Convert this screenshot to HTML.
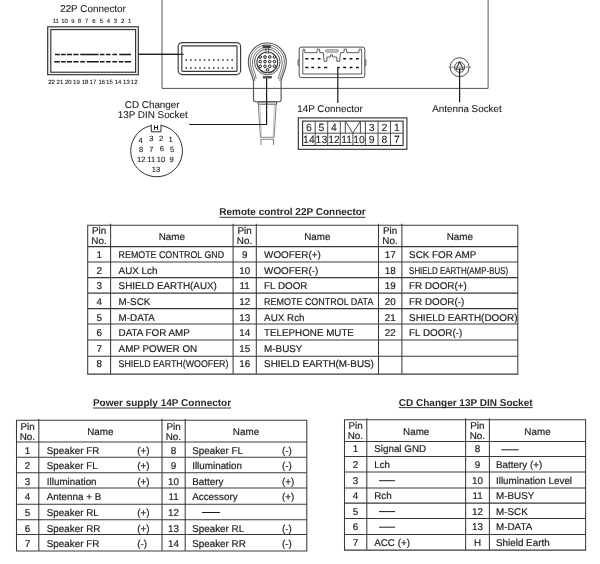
<!DOCTYPE html>
<html lang="en"><head><meta charset="utf-8"><title>Connector pinout</title>
<style>
html,body{margin:0;padding:0;background:#fff}
svg{display:block;will-change:transform}
text{font-family:"Liberation Sans",Arial,sans-serif;font-size:9.85px;fill:#1c1c1c;text-rendering:geometricPrecision;stroke:#1c1c1c;stroke-width:0.18px}
</style></head><body>
<svg width="600" height="564" viewBox="0 0 600 564">
<rect width="600" height="564" fill="#fff"/>
<path d="M162 -2V88.4H488.1V-2" fill="none" stroke="#4a4a4a" stroke-width="0.95"/>
<text x="93" y="12.3" style="font-size:9.9px;stroke-width:0.08px" text-anchor="middle">22P Connector</text>
<rect x="47.7" y="26.8" width="90.6" height="47.9" fill="#f4f4f4" stroke="#2a2a2a" stroke-width="1.1"/>
<rect x="50.8" y="29.6" width="84.8" height="42.6" fill="#fff" stroke="#2a2a2a" stroke-width="1.1"/>
<text x="55.8" y="23.4" style="font-size:6px;stroke-width:0.1px" text-anchor="middle">11</text>
<text x="64.6" y="23.4" style="font-size:6px;stroke-width:0.1px" text-anchor="middle">10</text>
<text x="73.0" y="23.4" style="font-size:6px;stroke-width:0.1px" text-anchor="middle">9</text>
<text x="79.4" y="23.4" style="font-size:6px;stroke-width:0.1px" text-anchor="middle">8</text>
<text x="86.75" y="23.4" style="font-size:6px;stroke-width:0.1px" text-anchor="middle">7</text>
<text x="94.0" y="23.4" style="font-size:6px;stroke-width:0.1px" text-anchor="middle">6</text>
<text x="101.3" y="23.4" style="font-size:6px;stroke-width:0.1px" text-anchor="middle">5</text>
<text x="108.5" y="23.4" style="font-size:6px;stroke-width:0.1px" text-anchor="middle">4</text>
<text x="115.3" y="23.4" style="font-size:6px;stroke-width:0.1px" text-anchor="middle">3</text>
<text x="122.6" y="23.4" style="font-size:6px;stroke-width:0.1px" text-anchor="middle">2</text>
<text x="129.7" y="23.4" style="font-size:6px;stroke-width:0.1px" text-anchor="middle">1</text>
<text x="51.5" y="84.1" style="font-size:6px;stroke-width:0.1px" text-anchor="middle">22</text>
<text x="59.9" y="84.1" style="font-size:6px;stroke-width:0.1px" text-anchor="middle">21</text>
<text x="68.3" y="84.1" style="font-size:6px;stroke-width:0.1px" text-anchor="middle">20</text>
<text x="76.4" y="84.1" style="font-size:6px;stroke-width:0.1px" text-anchor="middle">19</text>
<text x="85.1" y="84.1" style="font-size:6px;stroke-width:0.1px" text-anchor="middle">18</text>
<text x="92.9" y="84.1" style="font-size:6px;stroke-width:0.1px" text-anchor="middle">17</text>
<text x="101.8" y="84.1" style="font-size:6px;stroke-width:0.1px" text-anchor="middle">16</text>
<text x="109.4" y="84.1" style="font-size:6px;stroke-width:0.1px" text-anchor="middle">15</text>
<text x="118.1" y="84.1" style="font-size:6px;stroke-width:0.1px" text-anchor="middle">14</text>
<text x="126.4" y="84.1" style="font-size:6px;stroke-width:0.1px" text-anchor="middle">13</text>
<text x="134.2" y="84.1" style="font-size:6px;stroke-width:0.1px" text-anchor="middle">12</text>
<path d="M55.0 54.5H59.8M61.1 54.5H65.7M67.0 54.5H72.1M73.4 54.5H78.5M80.3 54.5H98.7M100.0 54.5H104.5M106.0 54.5H110.6M112.4 54.5H117.0M119.2 54.5H131.1" stroke="#161616" stroke-width="1.5" fill="none"/>
<path d="M54.3 61.8H59.8M61.1 61.8H65.7M67.0 61.8H72.1M73.4 61.8H78.5M80.3 61.8H84.9M86.8 61.8H98.7M100.0 61.8H104.5M106.0 61.8H110.6M112.4 61.8H117.0M118.8 61.8H123.4M124.7 61.8H131.1" stroke="#161616" stroke-width="1.5" fill="none"/>
<line x1="138.8" y1="54.4" x2="183.5" y2="54.4" stroke="#222" stroke-width="1.1"/>
<rect x="178.2" y="42.6" width="62.4" height="32" rx="4" fill="#fff" stroke="#3a3a3a" stroke-width="1.15"/>
<rect x="181.8" y="45.8" width="55.2" height="25.5" rx="0.8" fill="none" stroke="#3a3a3a" stroke-width="1.15"/>
<path d="M185.40 60H187.00M185.40 68H187.00M190.00 60H191.60M190.00 68H191.60M194.60 60H196.20M194.60 68H196.20M199.20 60H200.80M199.20 68H200.80M203.80 60H205.40M203.80 68H205.40M208.40 60H210.00M208.40 68H210.00M213.00 60H214.60M213.00 68H214.60M217.60 60H219.20M217.60 68H219.20M222.20 60H223.80M222.20 68H223.80M226.80 60H228.40M226.80 68H228.40M231.40 60H233.00M231.40 68H233.00" stroke="#333" stroke-width="1.4" fill="none"/>
<line x1="138.8" y1="54.4" x2="183.5" y2="54.4" stroke="#222" stroke-width="1.1"/>
<path d="M253.50 82.00C253.20 76.00 248.30 70.00 248.30 62.00A19.0 19.0 0 0 1 286.30 62.00C286.30 70.00 281.40 76.00 281.10 82.00V99.5Q281.1 101.7 279.1 101.7H255.5Q253.5 101.7 253.5 99.5V82" fill="none" stroke="#505050" stroke-width="1.1"/>
<path d="M254.90 81.00C254.60 75.00 250.20 70.00 250.20 62.00A17.1 17.1 0 0 1 284.40 62.00C284.40 70.00 280.00 75.00 279.70 81.00" fill="none" stroke="#6a6a6a" stroke-width="0.9"/>
<path d="M256.10 79.00C255.80 73.00 252.40 70.00 252.40 62.00A14.9 14.9 0 0 1 282.20 62.00C282.20 70.00 278.80 73.00 278.50 79.00" fill="none" stroke="#6a6a6a" stroke-width="0.9"/>
<circle cx="267.3" cy="62.0" r="12.8" fill="none" stroke="#505050" stroke-width="1"/>
<circle cx="267.3" cy="62.4" r="10.4" fill="#fff" stroke="#3a3a3a" stroke-width="1.1"/>
<circle cx="260.2" cy="57.0" r="1.35" fill="#ddd" stroke="#2a2a2a" stroke-width="1"/>
<circle cx="260.2" cy="61.6" r="1.35" fill="#ddd" stroke="#2a2a2a" stroke-width="1"/>
<circle cx="260.2" cy="66.3" r="1.35" fill="#ddd" stroke="#2a2a2a" stroke-width="1"/>
<circle cx="265.0" cy="57.0" r="1.35" fill="#ddd" stroke="#2a2a2a" stroke-width="1"/>
<circle cx="265.0" cy="61.6" r="1.35" fill="#ddd" stroke="#2a2a2a" stroke-width="1"/>
<circle cx="265.0" cy="66.3" r="1.35" fill="#ddd" stroke="#2a2a2a" stroke-width="1"/>
<circle cx="269.7" cy="57.0" r="1.35" fill="#ddd" stroke="#2a2a2a" stroke-width="1"/>
<circle cx="269.7" cy="61.6" r="1.35" fill="#ddd" stroke="#2a2a2a" stroke-width="1"/>
<circle cx="269.7" cy="66.3" r="1.35" fill="#ddd" stroke="#2a2a2a" stroke-width="1"/>
<circle cx="274.5" cy="57.0" r="1.35" fill="#ddd" stroke="#2a2a2a" stroke-width="1"/>
<circle cx="274.5" cy="61.6" r="1.35" fill="#ddd" stroke="#2a2a2a" stroke-width="1"/>
<circle cx="274.5" cy="66.3" r="1.35" fill="#ddd" stroke="#2a2a2a" stroke-width="1"/>
<circle cx="267.5" cy="69.9" r="1.35" fill="#ddd" stroke="#2a2a2a" stroke-width="1"/>
<rect x="263" y="45.7" width="7.6" height="2.2" fill="#444" stroke="#333" stroke-width="0.5"/>
<path d="M265.9 48V54M268.6 48V54" stroke="#444" stroke-width="0.8"/>
<rect x="263.2" y="76.3" width="8.4" height="1.8" fill="#666" stroke="#333" stroke-width="0.6"/>
<path d="M258 101.9H276.6M258 104.2H276.6M258 101.9V104.2M276.6 101.9V104.2" fill="none" stroke="#444" stroke-width="0.9"/>
<path d="M258.3 104.2L260.4 137.3H274.1L276.2 104.2M260.4 139.3H274.1M261 139.3V145M273.5 139.3V145" fill="none" stroke="#777" stroke-width="0.9"/>
<path d="M259.9 104.2L261.4 137.3M274.6 104.2L273.1 137.3" fill="none" stroke="#aaa" stroke-width="0.7"/>
<path d="M266.6 78.4V124.5H189.2" fill="none" stroke="#1a1a1a" stroke-width="1.2"/>
<rect x="299.2" y="47.1" width="65.6" height="30.5" rx="2" fill="#fff" stroke="#4a4a4a" stroke-width="1"/>
<path d="M302.8 74.0L302.8 52.7L303.1 49.2L304.6 49.2L304.9 52.7L317.0 52.7L317.2 49.2L319.5 49.2L319.8 52.7L323.3 52.7L324.1 61.3L326.9 61.3L326.9 57.0L330.4 57.0L330.4 54.9L332.6 54.9L332.6 57.0L336.8 57.0L336.8 61.3L339.7 61.3L340.4 52.7L343.9 52.7L344.2 49.2L346.5 49.2L346.8 52.7L358.8 52.7L359.1 49.2L361.4 49.2L361.7 52.7L361.7 74.0Z" fill="none" stroke="#4a4a4a" stroke-width="0.9"/>
<rect x="325.5" y="49.9" width="12.8" height="2.1" rx="1" fill="none" stroke="#4a4a4a" stroke-width="0.8"/>
<path d="M299.2 59.8H298.1V65.5H299.2M364.8 59.8H365.9V65.5H364.8" fill="none" stroke="#4a4a4a" stroke-width="0.9"/>
<path d="M305.3 58.8H308.4M311.3 58.8H314.1M317.7 58.8H320.5M343.2 58.8H346.1M349.6 58.8H352.4M356.0 58.8H358.8M305.3 67.4H308.4M311.3 67.4H314.1M317.7 67.4H320.5M324.1 67.4H327.2M337.5 67.4H339.7M343.2 67.4H346.1M349.6 67.4H352.4M356.0 67.4H358.8" stroke="#111" stroke-width="1.5" fill="none"/>
<path d="M337.8 67.3V103" stroke="#1a1a1a" stroke-width="1.2" fill="none"/>
<text x="297.3" y="111.6" style="stroke-width:0.08px">14P Connector</text>
<rect x="298.3" y="117.9" width="108.6" height="31.4" fill="#fff" stroke="#2a2a2a" stroke-width="1.1"/>
<rect x="302.6" y="121.1" width="100.5" height="24.4" fill="#fff" stroke="#2a2a2a" stroke-width="1.1"/>
<path d="M302.6 133.2H403.1M315.2 121.1V145.5M327.7 121.1V145.5M340.3 121.1V145.5M365.4 121.1V145.5M378.0 121.1V145.5M390.5 121.1V145.5M352.9 133.2V145.5" stroke="#4c4c4c" stroke-width="1" fill="none"/>
<path d="M345.3 121.1V133.2M360.4 121.1V133.2M345.3 121.1L352.8 133.2L360.4 121.1" stroke="#4c4c4c" stroke-width="1" fill="none"/>
<text x="308.9" y="131.2" style="font-size:10.4px;stroke-width:0.08px" text-anchor="middle">6</text>
<text x="321.4" y="131.2" style="font-size:10.4px;stroke-width:0.08px" text-anchor="middle">5</text>
<text x="334.0" y="131.2" style="font-size:10.4px;stroke-width:0.08px" text-anchor="middle">4</text>
<text x="371.7" y="131.2" style="font-size:10.4px;stroke-width:0.08px" text-anchor="middle">3</text>
<text x="384.3" y="131.2" style="font-size:10.4px;stroke-width:0.08px" text-anchor="middle">2</text>
<text x="396.8" y="131.2" style="font-size:10.4px;stroke-width:0.08px" text-anchor="middle">1</text>
<text x="308.9" y="143.4" style="font-size:10.4px;stroke-width:0.08px" text-anchor="middle">14</text>
<text x="321.4" y="143.4" style="font-size:10.4px;stroke-width:0.08px" text-anchor="middle">13</text>
<text x="334.0" y="143.4" style="font-size:10.4px;stroke-width:0.08px" text-anchor="middle">12</text>
<text x="346.6" y="143.4" style="font-size:10.4px;stroke-width:0.08px" text-anchor="middle">11</text>
<text x="359.1" y="143.4" style="font-size:10.4px;stroke-width:0.08px" text-anchor="middle">10</text>
<text x="371.7" y="143.4" style="font-size:10.4px;stroke-width:0.08px" text-anchor="middle">9</text>
<text x="384.3" y="143.4" style="font-size:10.4px;stroke-width:0.08px" text-anchor="middle">8</text>
<text x="396.8" y="143.4" style="font-size:10.4px;stroke-width:0.08px" text-anchor="middle">7</text>
<circle cx="459.6" cy="67.2" r="9.5" fill="#fff" stroke="#4a4a4a" stroke-width="1"/>
<circle cx="459.6" cy="67.2" r="5.1" fill="#fff" stroke="#4a4a4a" stroke-width="1"/>
<path d="M459.6 61.7L463.3 69.2H455.9Z" fill="none" stroke="#333" stroke-width="1.1" stroke-linejoin="round"/>
<path d="M448.5 67.2H471" stroke="#777" stroke-width="0.9"/>
<path d="M459.6 68.5V102.3" stroke="#1a1a1a" stroke-width="1.2"/>
<text x="432.2" y="111.7" style="stroke-width:0.08px">Antenna Socket</text>
<text x="152.2" y="107.7" style="font-size:9.9px;stroke-width:0.08px" text-anchor="middle">CD Changer</text>
<text x="152.7" y="118.1" style="font-size:9.9px;stroke-width:0.08px" text-anchor="middle">13P DIN Socket</text>
<path d="M161.0 125.43A25.85 25.85 0 1 1 151.3 125.60V131.8H161.0V125.43" fill="none" stroke="#2a2a2a" stroke-width="1"/>
<path d="M151.3 124.6V125.60M161.0 124.6V125.43" stroke="#2a2a2a" stroke-width="1"/>
<text x="156.1" y="129.6" style="font-size:7px;stroke:none" text-anchor="middle" font-weight="bold">H</text>
<text x="140.7" y="142.5" style="font-size:7.6px;stroke-width:0.12px" text-anchor="middle">4</text>
<text x="151.3" y="141.4" style="font-size:7.6px;stroke-width:0.12px" text-anchor="middle">3</text>
<text x="161" y="141.4" style="font-size:7.6px;stroke-width:0.12px" text-anchor="middle">2</text>
<text x="170.6" y="141.8" style="font-size:7.6px;stroke-width:0.12px" text-anchor="middle">1</text>
<text x="141.2" y="151.6" style="font-size:7.6px;stroke-width:0.12px" text-anchor="middle">8</text>
<text x="151.3" y="151.6" style="font-size:7.6px;stroke-width:0.12px" text-anchor="middle">7</text>
<text x="161.9" y="150.7" style="font-size:7.6px;stroke-width:0.12px" text-anchor="middle">6</text>
<text x="172" y="151.7" style="font-size:7.6px;stroke-width:0.12px" text-anchor="middle">5</text>
<text x="141.2" y="162.1" style="font-size:7.6px;stroke-width:0.12px" text-anchor="middle">12</text>
<text x="151.3" y="162.1" style="font-size:7.6px;stroke-width:0.12px" text-anchor="middle">11</text>
<text x="161" y="162.1" style="font-size:7.6px;stroke-width:0.12px" text-anchor="middle">10</text>
<text x="171.5" y="161.8" style="font-size:7.6px;stroke-width:0.12px" text-anchor="middle">9</text>
<text x="156" y="171.7" style="font-size:7.6px;stroke-width:0.12px" text-anchor="middle">13</text>
<text x="292.5" y="215.2" style="font-size:10px;fill:#2b2b2b;stroke:none" text-anchor="middle" font-weight="bold">Remote control 22P Connector</text>
<path d="M219.5 217.3H365.5" stroke="#1c1c1c" stroke-width="0.9"/>
<text x="162" y="405.9" style="font-size:10px;fill:#2b2b2b;stroke:none" text-anchor="middle" font-weight="bold">Power supply 14P Connector</text>
<path d="M93.0 408.0H231.0" stroke="#1c1c1c" stroke-width="0.9"/>
<text x="465.7" y="405.5" style="font-size:10px;fill:#2b2b2b;stroke:none" text-anchor="middle" font-weight="bold">CD Changer 13P DIN Socket</text>
<path d="M398.7 407.6H532.7" stroke="#1c1c1c" stroke-width="0.9"/>
<path d="M87.7 225.3V374.1M110.6 224.3V374.1M233.1 224.3V374.1M256.3 224.3V374.1M378.5 224.3V374.1M401.9 224.3V374.1M517.8 225.3V374.1M87.7 225.3H517.8M87.7 246.6H517.8M87.7 261.9H517.8M87.7 277.6H517.8M87.7 293.1H517.8M87.7 308.6H517.8M87.7 324.0H517.8M87.7 340.0H517.8M87.7 356.2H517.8M87.7 374.1H517.8" stroke="#3a3a3a" stroke-width="1.05" fill="none" stroke-linecap="square"/>
<text x="99.1" y="234.3" text-anchor="middle">Pin</text>
<text x="99.0" y="244.0" text-anchor="middle">No.</text>
<text x="171.8" y="239.7" text-anchor="middle">Name</text>
<text x="244.6" y="234.3" text-anchor="middle">Pin</text>
<text x="244.5" y="244.0" text-anchor="middle">No.</text>
<text x="317.4" y="239.7" text-anchor="middle">Name</text>
<text x="390.1" y="234.3" text-anchor="middle">Pin</text>
<text x="390.0" y="244.0" text-anchor="middle">No.</text>
<text x="459.8" y="239.7" text-anchor="middle">Name</text>
<text x="99.2" y="258.3" text-anchor="middle">1</text>
<text x="118.6" y="258.3" textLength="105.5" lengthAdjust="spacingAndGlyphs">REMOTE CONTROL GND</text>
<text x="99.2" y="273.9" text-anchor="middle">2</text>
<text x="118.6" y="273.9">AUX Lch</text>
<text x="99.2" y="289.4" text-anchor="middle">3</text>
<text x="118.6" y="289.4">SHIELD EARTH(AUX)</text>
<text x="99.2" y="305.0" text-anchor="middle">4</text>
<text x="118.6" y="305.0">M-SCK</text>
<text x="99.2" y="320.5" text-anchor="middle">5</text>
<text x="118.6" y="320.5">M-DATA</text>
<text x="99.2" y="336.1" text-anchor="middle">6</text>
<text x="118.6" y="336.1">DATA FOR AMP</text>
<text x="99.2" y="351.6" text-anchor="middle">7</text>
<text x="118.6" y="351.6">AMP POWER ON</text>
<text x="99.2" y="367.2" text-anchor="middle">8</text>
<text x="118.6" y="367.2" textLength="109.8" lengthAdjust="spacingAndGlyphs">SHIELD EARTH(WOOFER)</text>
<text x="244.7" y="258.3" text-anchor="middle">9</text>
<text x="264.1" y="258.3">WOOFER(+)</text>
<text x="244.7" y="273.9" text-anchor="middle">10</text>
<text x="264.1" y="273.9">WOOFER(-)</text>
<text x="244.7" y="289.4" text-anchor="middle">11</text>
<text x="264.1" y="289.4">FL DOOR</text>
<text x="244.7" y="305.0" text-anchor="middle">12</text>
<text x="264.1" y="305.0" textLength="109.3" lengthAdjust="spacingAndGlyphs">REMOTE CONTROL DATA</text>
<text x="244.7" y="320.5" text-anchor="middle">13</text>
<text x="264.1" y="320.5">AUX Rch</text>
<text x="244.7" y="336.1" text-anchor="middle">14</text>
<text x="264.1" y="336.1" textLength="89.8" lengthAdjust="spacingAndGlyphs">TELEPHONE MUTE</text>
<text x="244.7" y="351.6" text-anchor="middle">15</text>
<text x="264.1" y="351.6">M-BUSY</text>
<text x="244.7" y="367.2" text-anchor="middle">16</text>
<text x="264.1" y="367.2" textLength="109.8" lengthAdjust="spacingAndGlyphs">SHIELD EARTH(M-BUS)</text>
<text x="390.2" y="258.3" text-anchor="middle">17</text>
<text x="409.1" y="258.3">SCK FOR AMP</text>
<text x="390.2" y="273.9" text-anchor="middle">18</text>
<text x="409.1" y="273.9" textLength="99" lengthAdjust="spacingAndGlyphs">SHIELD EARTH(AMP-BUS)</text>
<text x="390.2" y="289.4" text-anchor="middle">19</text>
<text x="409.1" y="289.4">FR DOOR(+)</text>
<text x="390.2" y="305.0" text-anchor="middle">20</text>
<text x="409.1" y="305.0">FR DOOR(-)</text>
<text x="390.2" y="320.5" text-anchor="middle">21</text>
<text x="409.1" y="320.5" textLength="108.4" lengthAdjust="spacingAndGlyphs">SHIELD EARTH(DOOR)</text>
<text x="390.2" y="336.1" text-anchor="middle">22</text>
<text x="409.1" y="336.1">FL DOOR(-)</text>
<path d="M16.5 420.3V550.9M38.8 419.3V550.9M162.0 419.3V550.9M185.2 419.3V550.9M306.8 420.3V550.9M16.5 420.3H306.8M16.5 442.0H306.8M16.5 457.3H306.8M16.5 472.8H306.8M16.5 487.9H306.8M16.5 504.2H306.8M16.5 519.7H306.8M16.5 534.5H306.8M16.5 550.9H306.8" stroke="#3a3a3a" stroke-width="1.05" fill="none" stroke-linecap="square"/>
<text x="27.5" y="429.7" text-anchor="middle">Pin</text>
<text x="27.4" y="439.7" text-anchor="middle">No.</text>
<text x="100.4" y="435.2" text-anchor="middle">Name</text>
<text x="173.5" y="429.7" text-anchor="middle">Pin</text>
<text x="173.4" y="439.7" text-anchor="middle">No.</text>
<text x="246.0" y="435.2" text-anchor="middle">Name</text>
<text x="27.6" y="453.5" text-anchor="middle">1</text>
<text x="46.8" y="453.5">Speaker FR</text>
<text x="137.2" y="453.5">(+)</text>
<text x="27.6" y="469.1" text-anchor="middle">2</text>
<text x="46.8" y="469.1">Speaker FL</text>
<text x="137.2" y="469.1">(+)</text>
<text x="27.6" y="484.7" text-anchor="middle">3</text>
<text x="46.8" y="484.7">Illumination</text>
<text x="137.2" y="484.7">(+)</text>
<text x="27.6" y="500.3" text-anchor="middle">4</text>
<text x="46.8" y="500.3">Antenna + B</text>
<text x="27.6" y="515.9" text-anchor="middle">5</text>
<text x="46.8" y="515.9">Speaker RL</text>
<text x="137.2" y="515.9">(+)</text>
<text x="27.6" y="531.5" text-anchor="middle">6</text>
<text x="46.8" y="531.5">Speaker RR</text>
<text x="137.2" y="531.5">(+)</text>
<text x="27.6" y="547.1" text-anchor="middle">7</text>
<text x="46.8" y="547.1">Speaker FR</text>
<text x="137.2" y="547.1">(-)</text>
<text x="173.6" y="453.5" text-anchor="middle">8</text>
<text x="192.2" y="453.5">Speaker FL</text>
<text x="282.0" y="453.5">(-)</text>
<text x="173.6" y="469.1" text-anchor="middle">9</text>
<text x="192.2" y="469.1">Illumination</text>
<text x="282.0" y="469.1">(-)</text>
<text x="173.6" y="484.7" text-anchor="middle">10</text>
<text x="192.2" y="484.7">Battery</text>
<text x="282.0" y="484.7">(+)</text>
<text x="173.6" y="500.3" text-anchor="middle">11</text>
<text x="192.2" y="500.3">Accessory</text>
<text x="282.0" y="500.3">(+)</text>
<text x="173.6" y="515.9" text-anchor="middle">12</text>
<path d="M202 512.5H220" stroke="#1c1c1c" stroke-width="1"/>
<text x="173.6" y="531.5" text-anchor="middle">13</text>
<text x="192.2" y="531.5">Speaker RL</text>
<text x="282.0" y="531.5">(-)</text>
<text x="173.6" y="547.1" text-anchor="middle">14</text>
<text x="192.2" y="547.1">Speaker RR</text>
<text x="282.0" y="547.1">(-)</text>
<path d="M344.5 419.8V550.1M366.8 418.8V550.1M465.6 418.8V550.1M489.4 418.8V550.1M585.6 419.8V550.1M344.5 419.8H585.6M344.5 441.4H585.6M344.5 456.5H585.6M344.5 471.9H585.6M344.5 487.9H585.6M344.5 503.1H585.6M344.5 518.4H585.6M344.5 534.4H585.6M344.5 550.1H585.6" stroke="#3a3a3a" stroke-width="1.05" fill="none" stroke-linecap="square"/>
<text x="355.5" y="428.9" text-anchor="middle">Pin</text>
<text x="355.4" y="439.0" text-anchor="middle">No.</text>
<text x="416.2" y="434.5" text-anchor="middle">Name</text>
<text x="477.4" y="428.9" text-anchor="middle">Pin</text>
<text x="477.3" y="439.0" text-anchor="middle">No.</text>
<text x="537.5" y="434.5" text-anchor="middle">Name</text>
<text x="355.6" y="452.4" text-anchor="middle">1</text>
<text x="374.2" y="452.4">Signal GND</text>
<text x="355.6" y="467.9" text-anchor="middle">2</text>
<text x="374.2" y="467.9">Lch</text>
<text x="355.6" y="483.5" text-anchor="middle">3</text>
<path d="M379 480.7H395" stroke="#1c1c1c" stroke-width="1"/>
<text x="355.6" y="499.0" text-anchor="middle">4</text>
<text x="374.2" y="499.0">Rch</text>
<text x="355.6" y="514.5" text-anchor="middle">5</text>
<path d="M379 511.6H395" stroke="#1c1c1c" stroke-width="1"/>
<text x="355.6" y="530.0" text-anchor="middle">6</text>
<path d="M379 527.2H395" stroke="#1c1c1c" stroke-width="1"/>
<text x="355.6" y="545.6" text-anchor="middle">7</text>
<text x="374.2" y="545.6">ACC (+)</text>
<text x="477.5" y="452.4" text-anchor="middle">8</text>
<path d="M501.3 449.8H518.6" stroke="#1c1c1c" stroke-width="1"/>
<text x="477.5" y="467.9" text-anchor="middle">9</text>
<text x="496.0" y="467.9">Battery (+)</text>
<text x="477.5" y="483.5" text-anchor="middle">10</text>
<text x="496.0" y="483.5">Illumination Level</text>
<text x="477.5" y="499.0" text-anchor="middle">11</text>
<text x="496.0" y="499.0">M-BUSY</text>
<text x="477.5" y="514.5" text-anchor="middle">12</text>
<text x="496.0" y="514.5">M-SCK</text>
<text x="477.5" y="530.0" text-anchor="middle">13</text>
<text x="496.0" y="530.0">M-DATA</text>
<text x="477.5" y="545.6" text-anchor="middle">H</text>
<text x="496.0" y="545.6">Shield Earth</text>
</svg></body></html>
